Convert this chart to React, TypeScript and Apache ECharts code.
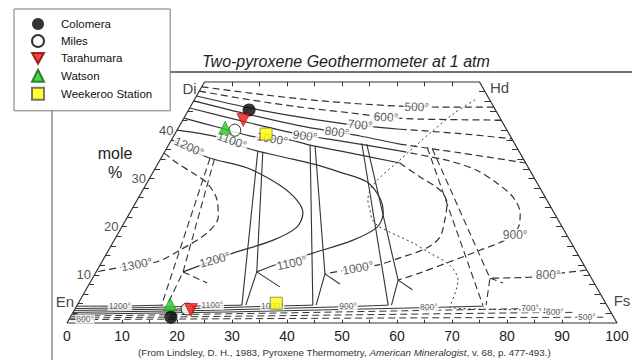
import React, { useEffect, useRef } from "react";
import * as echarts from "echarts";

const FONT = 'Arial, "Liberation Sans", Helvetica, sans-serif';
const INK = "#333";

// ---------- samples (mole %, Wo and Fs) ----------
const sampleNames = ["Colomera", "Miles", "Tarahumara", "Watson", "Weekeroo Station"];
const augWo = [44.2, 40.0, 42.1, 40.5, 39.2];
const augFs = [11.0, 10.5, 11.0, 8.5, 16.6];
const opxWo = [1.2, 2.9, 2.7, 3.9, 4.1];
const opxFs = [18.3, 20.4, 21.2, 16.8, 36.0];

// ---------- quadrilateral corners (Fs, Wo) ----------
const cornerNames = ["En", "Di", "Hd", "Fs"];
const cornerFs = [0, 0, 50, 100];
const cornerWo = [0, 50, 50, 0];
const woEdgeLabels = [10, 20, 30, 40];

// ---------- isotherms: [position along En-Fs base, Wo] ----------
const aug500 = [[24.5, 49.0], [33.3, 47.7], [42.4, 46.5], [51.5, 45.6], [60.5, 45.0], [67.8, 44.8], [77.6, 44.8]];
const aug600 = [[24.05, 48.1], [33.3, 46.3], [42.4, 44.8], [51.5, 43.6], [58.0, 42.7], [64.2, 42.3], [78.9, 42.1]];
const aug700a = [[23.55, 47.1], [33.3, 44.6], [42.4, 42.7], [50.5, 41.3], [60.5, 40.2]];
const aug700b = [[60.5, 40.2], [71.5, 39.3], [80.9, 38.2]];
const aug800a = [[23.05, 46.1], [33.3, 43.2], [42.4, 40.9], [49.1, 39.6], [53.3, 38.8], [60.5, 37.1]];
const aug800b = [[60.5, 37.1], [71.5, 35.3], [83.4, 33.2]];
const aug900a = [[22.3, 44.6], [33.3, 41.5], [43.3, 38.9], [49.6, 37.8], [60.5, 35.7]];
const aug900b = [[60.5, 35.7], [69.6, 33.6], [74.5, 31.7], [78.2, 29.0], [81.1, 26.1], [82.4, 22.8], [82.0, 19.7], [79.6, 17.2], [75.1, 15.1], [69.6, 12.7], [64.2, 10.4], [60.2, 8.9]];
const aug1000a = [[21.25, 42.5], [27.8, 40.5], [34.2, 38.6], [40.5, 38.0], [44.2, 36.9], [49.6, 35.7], [60.5, 33.2]];
const aug1000b = [[60.5, 33.2], [64.2, 30.3], [67.8, 27.6], [69.1, 24.9], [68.7, 21.4], [67.8, 17.8], [65.5, 15.6], [60.5, 13.5], [56.4, 12.0], [52.9, 11.4], [46.9, 10.2]];
const aug1100 = [[20.0, 40.0], [27.3, 38.6], [32.7, 36.3], [38.7, 34.6], [44.7, 33.0], [49.6, 31.3], [54.5, 29.3], [56.9, 25.9], [57.5, 22.8], [56.4, 19.9], [52.0, 17.2], [44.7, 14.5], [38.7, 12.4], [34.5, 10.6]];
const aug1200 = [[19.0, 38.0], [25.5, 34.4], [32.7, 32.2], [38.7, 28.6], [41.8, 25.5], [42.9, 22.8], [41.8, 19.9], [37.5, 17.2], [30.2, 14.5], [26.9, 13.1], [21.1, 10.6]];
const aug1300 = [[17.65, 35.3], [20.0, 33.2], [22.9, 31.1], [25.5, 29.0], [27.3, 25.5], [27.5, 22.0], [25.5, 18.7], [20.5, 15.1], [16.4, 12.7], [10.0, 11.6], [5.3, 10.6]];
const pig800 = [[94.5, 11.0], [87.5, 10.0], [84.2, 9.5], [76.9, 9.3]];

// three-phase tie lines (augite -> pigeonite -> orthopyroxene)
const tie1200 = [[[26.0, 34.2], [17.2, 3.7]], [[26.8, 34.0], [21.1, 10.6], [18.2, 3.7]], [[21.1, 10.6], [25.5, 8.3]]];
const tie1100 = [[[34.7, 35.7], [31.8, 3.7]], [[35.6, 35.5], [34.5, 10.6], [32.5, 3.7]], [[34.5, 10.6], [38.7, 7.5]]];
const tie1000 = [[[44.2, 36.9], [44.7, 3.7]], [[45.1, 36.7], [46.9, 10.2], [45.3, 3.7]], [[46.9, 10.2], [49.6, 8.1]]];
const tie900 = [[[53.6, 37.3], [58.4, 3.7]], [[54.5, 37.1], [60.2, 8.9], [59.0, 3.7]], [[60.2, 8.9], [62.8, 6.9]]];
const tie800 = [[[65.5, 36.4], [75.6, 3.7]], [[66.4, 36.2], [76.9, 9.3], [76.2, 3.7]], [[76.9, 9.3], [79.3, 8.3]]];

// dotted boundary
const dottedBoundary = [[74.2, 46.3], [70.5, 43.6], [66.0, 39.4], [60.5, 33.8], [55.6, 28.6], [54.7, 25.5], [55.1, 23.4], [55.5, 21.4], [56.9, 19.9], [62.9, 16.6], [66.0, 14.5], [69.6, 12.0], [71.1, 8.9], [69.6, 3.3], [89.6, 2.7]];

// orthopyroxene isotherms along the base
const opx1200 = [[1.75, 3.5], [9.6, 3.5], [17.5, 3.7]];
const opx1100 = [[1.5, 3.0], [15, 3.2], [26.4, 3.6], [31.8, 3.7]];
const opx1000 = [[1.3, 2.6], [20, 2.9], [37.3, 3.5], [44.7, 3.7]];
const opx900 = [[1.1, 2.2], [25, 2.6], [51.1, 3.4], [58.4, 3.7]];
const opx800 = [[1.0, 1.8], [30, 2.3], [65.8, 3.2], [75.8, 3.5]];
const opx700 = [[0.8, 1.4], [40, 2.1], [84.2, 3.0], [88, 3.0]];
const opx600 = [[0.6, 1.0], [45, 1.6], [88.7, 2.2], [92, 2.2]];
const opx500 = [[0.4, 0.7], [50, 1.0], [94.5, 1.2], [97.5, 1.2]];

// isotherm labels
const isoLabelText = ["500°", "600°", "700°", "800°", "900°", "1000°", "1100°", "1200°", "1300°", "1200°", "1100°", "1000°", "900°", "800°"];
const isoLabelX = [63.6, 58.0, 53.3, 49.1, 43.3, 37.3, 30.0, 22.2, 12.7, 26.9, 40.9, 52.9, 81.5, 87.5];
const isoLabelWo = [44.8, 42.7, 41.1, 39.6, 38.8, 38.2, 37.8, 36.5, 12.1, 13.1, 12.4, 11.4, 18.3, 10.0];
const isoLabelRot = [-2, -3, -5, -7, -8, -10, -20, -25, 10, 15, 12, 10, 0, 0];

const opxLabelText = ["1200°", "1100°", "1000°", "900°", "800°", "700°", "600°", "500°", "800°"];
const opxLabelX = [9.6, 26.4, 37.3, 51.1, 65.8, 84.2, 88.7, 94.5, 3.3];
const opxLabelWo = [3.5, 3.7, 3.6, 3.5, 3.3, 3.1, 2.3, 1.2, 0.8];

const DOWN_TRIANGLE = "path://M0,0L10,0L5,9Z";

const proj = (fs: number, wo: number) => [fs + wo / 2, wo];

function curve(data: number[][], dashed: boolean | "dot", width = 1.2, smooth: number | boolean = 0.3) {
  return {
    type: "line",
    data,
    symbol: "none",
    showSymbol: false,
    smooth,
    clip: false,
    silent: true,
    z: 2,
    lineStyle: {
      color: INK,
      width,
      type: dashed === "dot" ? [2, 3] : dashed ? [7, 4] : "solid",
    },
    emphasis: { disabled: true },
  };
}

function buildOption() {
  const series: any[] = [];

  // outline
  const outline = [0, 1, 2, 3, 0].map((i) => proj(cornerFs[i], cornerWo[i]));
  series.push(curve(outline, false, 1.2, false));

  // edge ticks
  const ticks: number[][][] = [];
  for (let w = 2; w < 50; w += 2) {
    ticks.push([[w / 2, w], [w / 2 + 0.9, w]]);
    ticks.push([[100 - w / 2, w], [100 - w / 2 - 1.1, w]]);
  }
  for (let x = 30; x <= 70; x += 5) ticks.push([[x, 50], [x, 49.1]]);
  for (let x = 5; x <= 95; x += 5) ticks.push([[x, 0], [x, 0.7]]);
  series.push({
    type: "lines",
    coordinateSystem: "cartesian2d",
    data: ticks.map((c) => ({ coords: c })),
    lineStyle: { color: INK, width: 1, opacity: 1 },
    silent: true,
    z: 2,
  });

  // isotherms
  series.push(curve(aug500, true));
  series.push(curve(aug600, true));
  series.push(curve(aug700a, false));
  series.push(curve(aug700b, true));
  series.push(curve(aug800a, false));
  series.push(curve(aug800b, true));
  series.push(curve(aug900a, false));
  series.push(curve(aug900b, true));
  series.push(curve(aug1000a, false));
  series.push(curve(aug1000b, true));
  series.push(curve(aug1100, false));
  series.push(curve(aug1200, false));
  series.push(curve(aug1300, true));
  series.push(curve(pig800, true));

  for (const seg of tie1200) series.push(curve(seg, true, 1.1, false));
  for (const seg of tie1100) series.push(curve(seg, false, 1.1, false));
  for (const seg of tie1000) series.push(curve(seg, false, 1.1, false));
  for (const seg of tie900) series.push(curve(seg, false, 1.1, false));
  for (const seg of tie800) series.push(curve(seg, true, 1.1, false));

  series.push(curve(dottedBoundary, "dot", 1, 0.3));

  [opx1200, opx1100, opx1000, opx900, opx800].forEach((d) => series.push(curve(d, false, 1, false)));
  [opx700, opx600, opx500].forEach((d) => series.push(curve(d, true, 1, false)));

  // isotherm labels
  series.push({
    type: "scatter",
    symbolSize: 1,
    itemStyle: { color: "rgba(0,0,0,0)" },
    silent: true,
    z: 3,
    data: isoLabelText.map((t, i) => ({
      name: t,
      value: [isoLabelX[i], isoLabelWo[i]],
      label: { rotate: isoLabelRot[i] },
    })),
    label: {
      show: true,
      position: "inside",
      formatter: "{b}",
      fontFamily: FONT,
      fontSize: 12,
      color: INK,
      backgroundColor: "#fff",
      padding: [0, 1],
    },
  });
  series.push({
    type: "scatter",
    symbolSize: 1,
    itemStyle: { color: "rgba(0,0,0,0)" },
    silent: true,
    z: 3,
    data: opxLabelText.map((t, i) => ({ name: t, value: [opxLabelX[i], opxLabelWo[i]] })),
    label: {
      show: true,
      position: "inside",
      formatter: "{b}",
      fontFamily: FONT,
      fontSize: 8.5,
      color: INK,
      backgroundColor: "#fff",
      padding: [0, 1],
    },
  });

  // Wo labels along En-Di edge
  series.push({
    type: "scatter",
    symbolSize: 1,
    itemStyle: { color: "rgba(0,0,0,0)" },
    silent: true,
    z: 3,
    data: woEdgeLabels.map((w) => ({ name: String(w), value: proj(0, w) })),
    label: {
      show: true,
      position: "left",
      distance: 3,
      formatter: "{b}",
      fontFamily: FONT,
      fontSize: 13,
      color: "#222",
    },
  });

  // corner names
  const cornerOffsets = [[-2, -22], [-15, 6], [20, 5], [5, -23]];
  series.push({
    type: "scatter",
    symbolSize: 1,
    itemStyle: { color: "rgba(0,0,0,0)" },
    silent: true,
    z: 3,
    data: cornerNames.map((n, i) => ({
      name: n,
      value: proj(cornerFs[i], cornerWo[i]),
      label: { offset: cornerOffsets[i] },
    })),
    label: {
      show: true,
      position: "inside",
      formatter: "{b}",
      fontFamily: FONT,
      fontSize: 15,
      color: "#111",
    },
  });

  // samples
  const styles = [
    { symbol: "circle", symbolSize: 13, itemStyle: { color: "#000" } },
    { symbol: "circle", symbolSize: 12, itemStyle: { color: "#fff", borderColor: "#000", borderWidth: 1 } },
    { symbol: "triangle", symbolRotate: 180, symbolSize: 13, itemStyle: { color: "#f01414", borderColor: "#8a0000", borderWidth: 0.6 } },
    { symbol: "triangle", symbolSize: 13, itemStyle: { color: "#22cc22", borderColor: "#0a6a0a", borderWidth: 0.6 } },
    { symbol: "rect", symbolSize: 12, itemStyle: { color: "#ffff00", borderColor: "#555", borderWidth: 0.8 } },
  ];
  sampleNames.forEach((name, i) => {
    series.push({
      type: "scatter",
      name,
      z: 5,
      silent: true,
      data: [proj(augFs[i], augWo[i]), proj(opxFs[i], opxWo[i])],
      ...styles[i],
    });
  });

  return {
    animation: false,
    backgroundColor: "#fff",
    grid: { left: 67, right: 15, top: 82, bottom: 37, containLabel: false },
    xAxis: {
      type: "value",
      min: 0,
      max: 100,
      interval: 10,
      axisLine: { show: false },
      axisTick: { show: false },
      splitLine: { show: false },
      axisLabel: { fontFamily: FONT, fontSize: 14, color: "#222", margin: 6 },
    },
    yAxis: { type: "value", min: 0, max: 50, show: false },
    legend: {
      data: sampleNames.map((n, i) => (i === 2 ? { name: n, icon: DOWN_TRIANGLE } : { name: n })),
      orient: "vertical",
      left: 14,
      top: 9,
      padding: [9, 18, 10, 17],
      itemWidth: 12,
      itemHeight: 12,
      itemGap: 4,
      backgroundColor: "#fff",
      borderColor: "#777",
      borderWidth: 1,
      selectedMode: false,
      textStyle: { fontFamily: FONT, fontSize: 11.5, color: "#111", padding: [0, 0, 0, 12] },
    },
    graphic: [
      { type: "line", z: 0, shape: { x1: 52, y1: 72, x2: 632, y2: 72 }, style: { stroke: "#444", lineWidth: 1.5 } },
      { type: "line", z: 0, shape: { x1: 52, y1: 72, x2: 52, y2: 360 }, style: { stroke: "#555", lineWidth: 1 } },
      {
        type: "text",
        x: 202,
        y: 61,
        style: {
          text: "Two-pyroxene Geothermometer at 1 atm",
          font: `italic 16px ${FONT}`,
          fill: "#222",
          textAlign: "left",
          textVerticalAlign: "middle",
          align: "left",
          verticalAlign: "middle",
        },
      },
      {
        type: "text",
        x: 115,
        y: 163,
        style: {
          text: "mole\n%",
          font: `16px ${FONT}`,
          fill: "#222",
          lineHeight: 19,
          textAlign: "center",
          textVerticalAlign: "middle",
          align: "center",
          verticalAlign: "middle",
        },
      },
      {
        type: "text",
        x: 138,
        y: 352,
        style: {
          text: "(From Lindsley, D. H., 1983, Pyroxene Thermometry, {i|American Mineralogist}, v. 68, p. 477-493.)",
          fontFamily: FONT,
          fontSize: 9.8,
          fill: "#333",
          textVerticalAlign: "middle",
          verticalAlign: "middle",
          rich: { i: { fontStyle: "italic", fontFamily: FONT, fontSize: 9.8, fill: "#333", color: "#333" } },
        },
      },
    ],
    series,
  };
}

export default function App() {
  const ref = useRef<HTMLDivElement>(null);
  useEffect(() => {
    document.body.style.margin = "0";
    const chart = echarts.init(ref.current!, null, { renderer: "svg" });
    chart.setOption(buildOption() as any);
    return () => chart.dispose();
  }, []);
  return (
    <div
      ref={ref}
      style={{ position: "absolute", left: 0, top: 0, width: 632, height: 360, background: "#fff" }}
    />
  );
}
